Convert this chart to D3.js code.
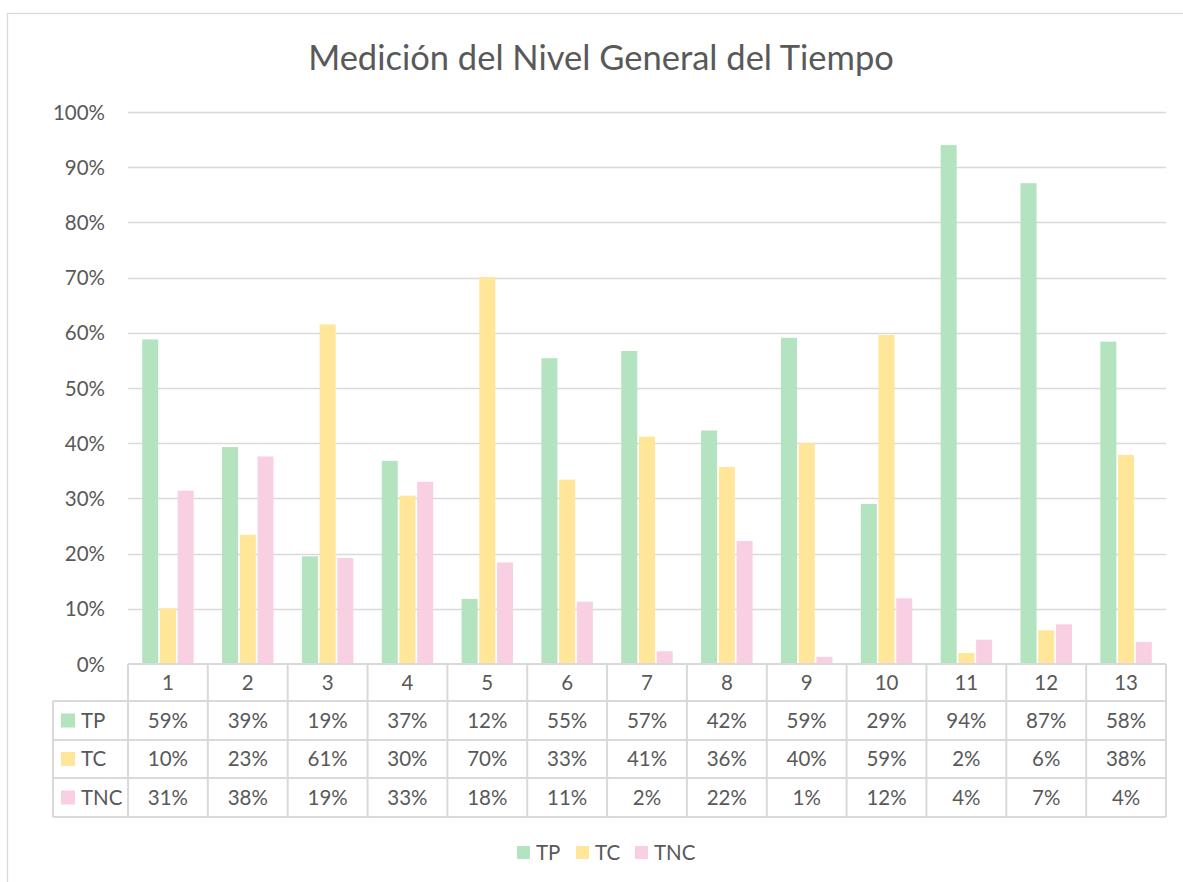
<!DOCTYPE html>
<html><head><meta charset="utf-8">
<script src="https://cdn.jsdelivr.net/npm/d3@7"></script>
<style>
body{margin:0;background:#fff;}
text{font-family:Lato,"Open Sans",sans-serif;fill:#595959;}
</style></head>
<body>
<svg id="chart" width="1183" height="882"></svg>
<script>
const title = "Medición del Nivel General del Tiempo";
const categories = ["1","2","3","4","5","6","7","8","9","10","11","12","13"];
const seriesNames = ["TP","TC","TNC"];
const TP  = [0.588,0.393,0.195,0.368,0.118,0.554,0.567,0.423,0.591,0.290,0.940,0.871,0.584];
const TC  = [0.101,0.234,0.615,0.305,0.701,0.334,0.412,0.357,0.400,0.596,0.020,0.061,0.379];
const TNC = [0.314,0.376,0.192,0.330,0.184,0.113,0.023,0.223,0.013,0.119,0.044,0.072,0.040];
const tableLabels = {
  TP:  ["59%","39%","19%","37%","12%","55%","57%","42%","59%","29%","94%","87%","58%"],
  TC:  ["10%","23%","61%","30%","70%","33%","41%","36%","40%","59%","2%","6%","38%"],
  TNC: ["31%","38%","19%","33%","18%","11%","2%","22%","1%","12%","4%","7%","4%"]
};
const yTicks = [0,0.1,0.2,0.3,0.4,0.5,0.6,0.7,0.8,0.9,1.0];
const colors = {TP:"#b3e3bf", TC:"#ffe699", TNC:"#f9d0e3"};
const values = {TP, TC, TNC};

const svg = d3.select("#chart");
const grid = "#d9d9d9";
const pLeft = 128, pRight = 1166, pTop = 112, pBottom = 664;
const rowY = [664, 701, 740, 778, 817];
const tableLeft = 53;
const fs = "20.5px";

// chart border
svg.append("rect").attr("x",7.5).attr("y",13.5).attr("width",1200).attr("height",900)
  .attr("fill","#fff").attr("stroke",grid).attr("stroke-width",1.3);

const x0 = d3.scaleBand().domain(categories).range([pLeft, pRight]);
const x1 = d3.scaleBand().domain(seriesNames).range([0, x0.bandwidth()]).paddingInner(0.096).paddingOuter(0.8);
const y = d3.scaleLinear().domain([0,1]).range([pBottom, pTop]);

// title
svg.append("text").attr("x",601).attr("y",70).attr("text-anchor","middle")
  .style("font-size","34.5px").text(title);

// gridlines
svg.append("g").selectAll("line").data(yTicks.filter(d=>d>0)).join("line")
  .attr("x1",pLeft).attr("x2",pRight).attr("y1",d=>Math.round(y(d))+0.5).attr("y2",d=>Math.round(y(d))+0.5)
  .attr("stroke",grid).attr("stroke-width",1.5);

// y axis labels
const yAxis = d3.axisLeft(y).tickValues(yTicks).tickFormat(d3.format(".0%")).tickSize(0).tickPadding(0);
const ya = svg.append("g").attr("transform",`translate(105,0)`).call(yAxis);
ya.select(".domain").remove();
ya.selectAll("text").style("font-size",fs).style("font-family","Lato").attr("fill","#595959").attr("dy","0.35em");

// bars
const groups = svg.append("g").selectAll("g").data(categories).join("g")
  .attr("transform",d=>`translate(${x0(d)},0)`);
groups.selectAll("rect").data((c,i)=>seriesNames.map(s=>({s, v: values[s][i]}))).join("rect")
  .attr("x",d=>x1(d.s)).attr("width",x1.bandwidth())
  .attr("y",d=>y(d.v)).attr("height",d=>y(0)-y(d.v))
  .attr("fill",d=>colors[d.s]);

// data table
const tg = svg.append("g");
tg.append("line").attr("x1",pLeft).attr("x2",pRight).attr("y1",rowY[0]).attr("y2",rowY[0]).attr("stroke",grid).attr("stroke-width",2);
rowY.slice(1).forEach(yy=>{
  tg.append("line").attr("x1",tableLeft).attr("x2",pRight).attr("y1",yy).attr("y2",yy).attr("stroke",grid).attr("stroke-width",2);
});
const bounds = categories.map(c=>x0(c)).concat([pRight]);
bounds.forEach(xx=>{
  tg.append("line").attr("x1",xx).attr("x2",xx).attr("y1",rowY[0]).attr("y2",rowY[4]).attr("stroke",grid).attr("stroke-width",2);
});
tg.append("line").attr("x1",tableLeft).attr("x2",tableLeft).attr("y1",rowY[1]).attr("y2",rowY[4]).attr("stroke",grid).attr("stroke-width",2);

tg.selectAll("text.cat").data(categories).join("text").attr("class","cat")
  .attr("x",d=>x0(d)+x0.bandwidth()/2).attr("y",(rowY[0]+rowY[1])/2).attr("dy","0.35em")
  .attr("text-anchor","middle").style("font-size",fs).text(d=>d);

seriesNames.forEach((s,r)=>{
  const cy = (rowY[r+1]+rowY[r+2])/2;
  tg.append("rect").attr("x",61).attr("y",cy-7).attr("width",14).attr("height",14).attr("fill",colors[s]);
  tg.append("text").attr("x",81).attr("y",cy).attr("dy","0.35em").style("font-size",fs).text(s);
  tg.selectAll(null).data(tableLabels[s]).join("text")
    .attr("x",(d,i)=>x0(categories[i])+x0.bandwidth()/2).attr("y",cy).attr("dy","0.35em")
    .attr("text-anchor","middle").style("font-size",fs).text(d=>d);
});

// legend
const legendItems = [{s:"TP",x:517},{s:"TC",x:576},{s:"TNC",x:635}];
const lg = svg.append("g");
legendItems.forEach(it=>{
  lg.append("rect").attr("x",it.x).attr("y",846).attr("width",13).attr("height",13).attr("fill",colors[it.s]);
  lg.append("text").attr("x",it.x+19).attr("y",852.5).attr("dy","0.35em").style("font-size",fs).text(it.s);
});
</script>
</body></html>
